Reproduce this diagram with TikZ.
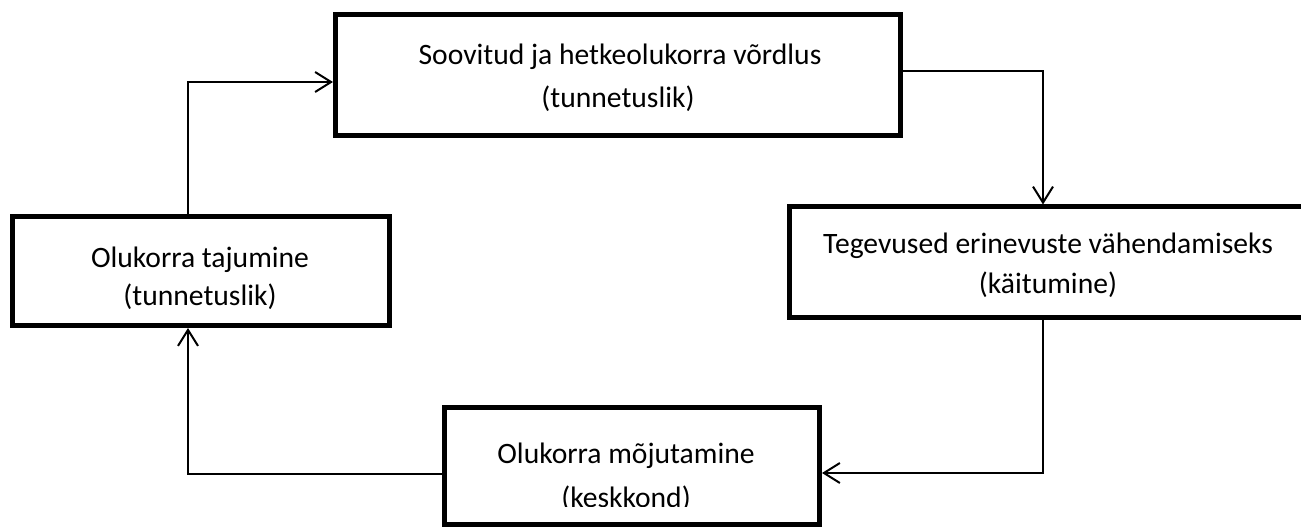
\documentclass[tikz,border=0pt]{standalone}
\usepackage{fontspec}
\setmainfont{Carlito}
\usetikzlibrary{arrows.meta}
\begin{document}
\begin{tikzpicture}[x=0.75pt,y=-0.75pt,
  box/.style={draw=black,line width=3.75pt,rectangle,inner sep=0pt,anchor=center},
  txt/.style={font=\fontsize{22.2}{26}\selectfont,anchor=base,inner sep=0pt},
  conn/.style={line width=1.5pt,-{Straight Barb[length=12pt,width=15pt,line width=1.5pt]}}]
\useasboundingbox (0,0) rectangle (1301,527);
\fill[white] (0,0) rectangle (1301,527);
% boxes
\node[box,minimum width=423.4pt,minimum height=90.75pt] (T) at (617.75,75) {};
\node[box,minimum width=282.75pt,minimum height=81.4pt] (L) at (201,271.25) {};
\node[box,minimum width=387.4pt,minimum height=82.9pt] (R) at (1047.75,262.25) {};
\node[box,minimum width=281.25pt,minimum height=88.1pt] (B) at (632,466.25) {};
% texts
\node[txt] (t1) at (620,65) {Soovitud ja hetkeolukorra võrdlus};
\node[txt] (t2) at (618,108) {(tunnetuslik)};
\node[txt] (l1) at (200,267) {Olukorra tajumine};
\node[txt] (l2) at (200,305) {(tunnetuslik)};
\node[txt] (r1) at (1048,253) {Tegevused erinevuste vähendamiseks};
\node[txt] (r2) at (1048,293) {(käitumine)};
\node[txt] (b1) at (626,463) {Olukorra mõjutamine};
\begin{scope}
\clip (444,410) rectangle (820,506);
\node[txt] (b2) at (626,507) {(keskkond)};
\end{scope}
% connectors
\coordinate (c1) at (188,82);
\coordinate (c2) at (1043,71);
\coordinate (c3) at (1043,473);
\coordinate (c4) at (188,474);
\draw[conn] (c1 |- L.north) -- (c1) -- (c1 -| T.west);
\draw[conn] (c2 -| T.east) -- (c2) -- (c2 |- R.north);
\draw[conn] (c3 |- R.south) -- (c3) -- (c3 -| B.east);
\draw[conn] (c4 -| B.west) -- (c4) -- (c4 |- L.south);
\end{tikzpicture}
\end{document}
